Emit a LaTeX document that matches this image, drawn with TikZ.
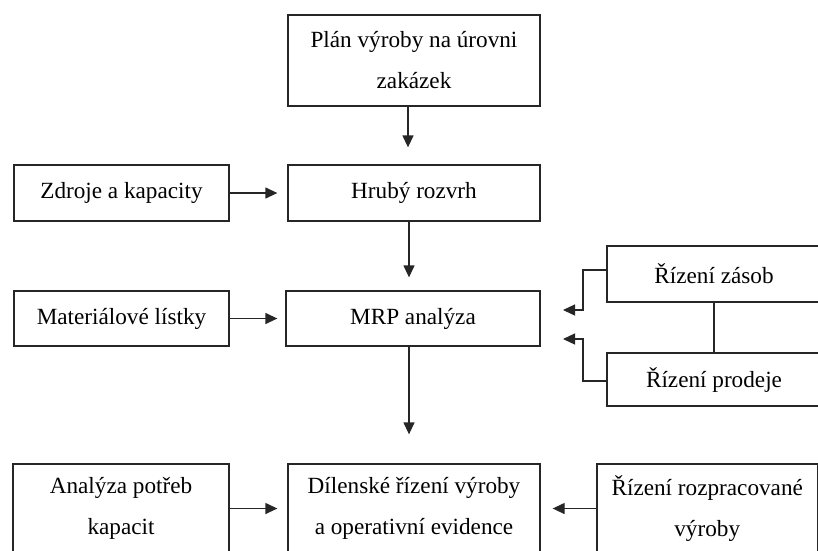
\documentclass[tikz,border=0pt]{standalone}
\usepackage{fontspec}
\setmainfont{Liberation Serif}
\usetikzlibrary{arrows.meta}
\begin{document}
\begin{tikzpicture}[x=1pt,y=-1pt,
 box/.style={draw=black!85, line width=1.3pt, rectangle, inner sep=0pt, align=center, font=\fontsize{23.2}{41}\selectfont},
 arr/.style={draw=black!85, line width=1.3pt, -{Triangle[length=12pt,width=11pt]}},
 ln/.style={draw=black!85, line width=1.3pt}]
\useasboundingbox (0,0) rectangle (818,550);
\node[box, minimum width=252pt, minimum height=91pt] (plan) at (414,60.5) {Plán výroby na úrovni\\zakázek};
\node[box, minimum width=215pt, minimum height=56pt] (zdroje) at (121.5,193) {Zdroje a kapacity};
\node[box, minimum width=252pt, minimum height=56pt] (hruby) at (414,193) {Hrubý rozvrh};
\node[box, minimum width=215pt, minimum height=55pt] (mat) at (121.5,318.5) {Materiálové lístky};
\node[box, minimum width=254pt, minimum height=55pt] (mrp) at (413,318.5) {MRP analýza};
\node[box, minimum width=214pt, minimum height=56pt] (zasob) at (714,274) {Řízení zásob};
\node[box, minimum width=214pt, minimum height=53pt] (prodej) at (714,379.5) {Řízení prodeje};
\node[box, minimum width=216pt, minimum height=89pt] (analyza) at (121,508.5) {Analýza potřeb\\kapacit};
\node[box, minimum width=252pt, minimum height=89pt] (dilen) at (414,508.5) {Dílenské řízení výroby\\a operativní evidence};
\node[box, minimum width=220.5pt, minimum height=89pt] (rozpr) at (707.25,508.5) {Řízení rozpracované\\výroby};
\coordinate (c1) at (408,0);
\coordinate (c2) at (409,0);
\draw[arr, shorten >=17pt] (plan.south -| c1) -- (hruby.north -| c1);
\draw[arr, shorten >=10pt] (zdroje.east) -- (hruby.west);
\draw[arr, shorten >=13pt] (hruby.south -| c2) -- (mrp.north -| c2);
\draw[arr, shorten >=8pt] (mat.east) -- (mrp.west);
\draw[arr, shorten >=29pt] (mrp.south -| c2) -- (dilen.north -| c2);
\draw[ln] (zasob.south) -- (prodej.north);
\coordinate (z1) at (583,310);
\coordinate (zt) at (563,310);
\coordinate (p1) at (583,339);
\coordinate (pt) at (563,339);
\draw[arr] ([yshift=4pt]zasob.west) -| (z1) -- (zt);
\draw[arr] ([yshift=-1.5pt]prodej.west) -| (p1) -- (pt);
\draw[arr, shorten >=10pt] (analyza.east) -- (dilen.west);
\draw[arr, shorten >=12pt] (rozpr.west) -- (dilen.east);
\end{tikzpicture}
\end{document}
